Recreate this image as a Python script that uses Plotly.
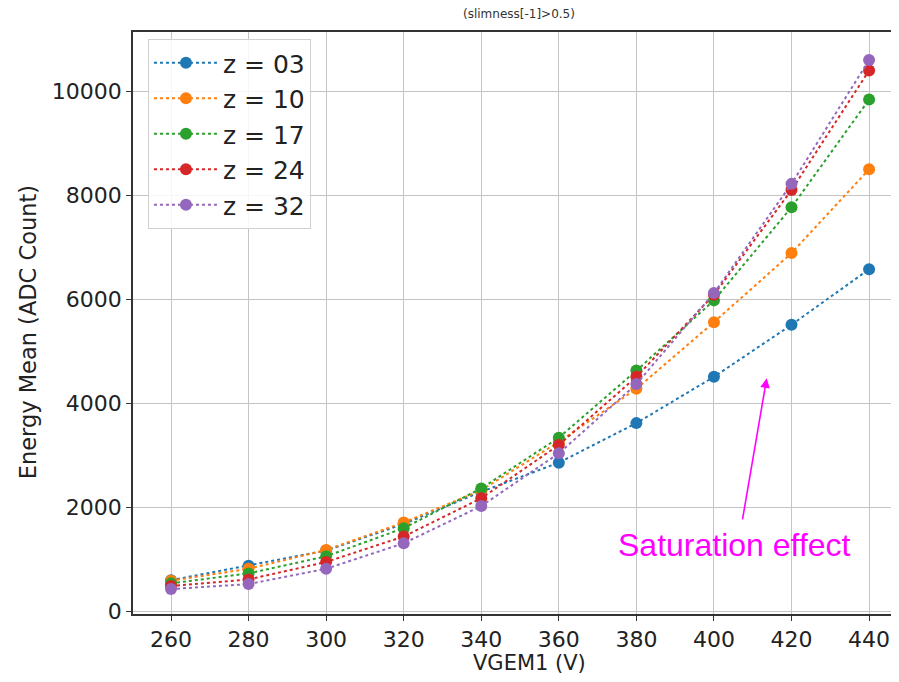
import plotly.graph_objects as go

# ---- data ----
vgem1 = [260, 280, 300, 320, 340, 360, 380, 400, 420, 440]
z03 = [600, 880, 1170, 1680, 2300, 2860, 3620, 4510, 5510, 6580]
z10 = [590, 820, 1180, 1710, 2330, 3260, 4280, 5560, 6890, 8500]
z17 = [540, 730, 1060, 1600, 2365, 3340, 4630, 5980, 7770, 9840]
z24 = [490, 615, 950, 1440, 2175, 3200, 4510, 6090, 8100, 10400]
z32 = [430, 525, 820, 1310, 2025, 3040, 4370, 6120, 8220, 10600]

series_names = ["z = 03", "z = 10", "z = 17", "z = 24", "z = 32"]
series_values = [z03, z10, z17, z24, z32]
colors = ["#1f77b4", "#ff7f0e", "#2ca02c", "#d62728", "#9467bd"]

x_ticks = [260, 280, 300, 320, 340, 360, 380, 400, 420, 440]
y_ticks = [0, 2000, 4000, 6000, 8000, 10000]

fig = go.Figure()
for name, vals, c in zip(series_names, series_values, colors):
    fig.add_trace(go.Scatter(
        x=vgem1, y=vals, name=name, mode="lines+markers",
        line=dict(color=c, width=2, dash="dot"),
        marker=dict(color=c, size=12),
    ))

# page offset from the default body margin
OFF = 8
W, H = 899 - OFF, 682 - OFF
L, R, T, B = 133 - OFF, 0, 32 - OFF, 68
pw = W - L - R
ph = H - T - B

def px_x(p):
    return (p - OFF - L) / pw

def px_y(p):
    return 1 - (p - OFF - T) / ph

font = "DejaVu Sans, Arial, sans-serif"

fig.update_layout(
    width=W, height=H,
    margin=dict(l=L, r=R, t=T, b=B, pad=0),
    paper_bgcolor="white", plot_bgcolor="white",
    font=dict(family=font, color="#222222"),
    showlegend=True,
    legend=dict(
        x=px_x(148), y=px_y(39), xanchor="left", yanchor="top",
        bgcolor="rgba(255,255,255,0.85)", bordercolor="#d0d0d0", borderwidth=1,
        font=dict(size=25, family=font, color="#222222"),
        tracegroupgap=0, itemwidth=64,
    ),
    xaxis=dict(
        range=[250.2, 447.2], tickvals=x_ticks,
        ticktext=[str(v) for v in x_ticks],
        showgrid=True, gridcolor="#c4c4c4", gridwidth=1,
        showline=True, linecolor="#333333", linewidth=1.5, mirror=True,
        ticks="outside", ticklen=5, tickcolor="#333333",
        tickfont=dict(size=22, family=font, color="#222222"),
        zeroline=False,
    ),
    yaxis=dict(
        range=[-50, 11140], tickvals=y_ticks,
        ticktext=[str(v) for v in y_ticks],
        showgrid=True, gridcolor="#c4c4c4", gridwidth=1,
        showline=True, linecolor="#333333", linewidth=1.5, mirror=True,
        ticks="outside", ticklen=5, tickcolor="#333333",
        tickfont=dict(size=22, family=font, color="#222222"),
        zeroline=False,
    ),
)

annotations = [
    dict(text="(slimness[-1]>0.5)", xref="paper", yref="paper",
         x=px_x(520), y=px_y(14), xanchor="center", yanchor="middle",
         showarrow=False, font=dict(size=12, family=font, color="#333333")),
    dict(text="VGEM1 (V)", xref="paper", yref="paper",
         x=px_x(531), y=px_y(663), xanchor="center", yanchor="middle",
         showarrow=False, font=dict(size=21, family=font, color="#222222")),
    dict(text="Energy Mean (ADC Count)", xref="paper", yref="paper",
         x=px_x(28), y=px_y(332), xanchor="center", yanchor="middle",
         textangle=-90, showarrow=False,
         font=dict(size=22.5, family=font, color="#222222")),
    dict(text="Saturation effect", xref="x", yref="y",
         x=405.3, y=1275, xanchor="center", yanchor="middle",
         showarrow=False,
         font=dict(size=32, family="Liberation Sans, Arial, sans-serif", color="#ff00ff")),
    dict(text="", xref="x", yref="y", axref="x", ayref="y",
         x=413.6, y=4481, ax=407.3, ay=1742,
         showarrow=True, arrowhead=2, arrowsize=1.2, arrowwidth=1.6,
         arrowcolor="#ff00ff"),
]
fig.update_layout(annotations=annotations)

fig.write_html("out.html")
